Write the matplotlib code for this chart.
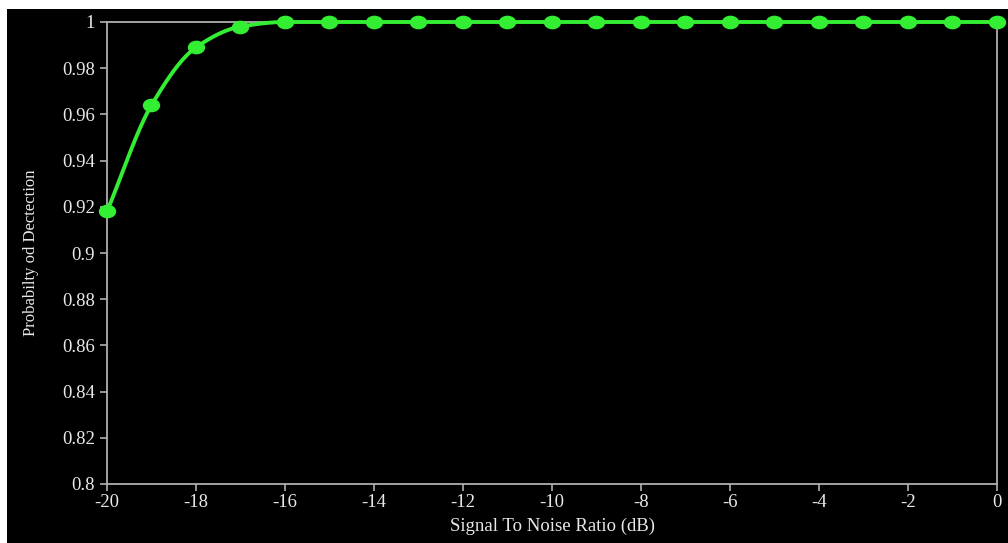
import numpy as np
import matplotlib.pyplot as plt
from matplotlib.patches import Rectangle
from matplotlib.path import Path

snr_db = [-20, -19, -18, -17, -16, -15, -14, -13, -12, -11, -10,
          -9, -8, -7, -6, -5, -4, -3, -2, -1, 0]
p_detect = [0.918, 0.964, 0.989, 0.998, 1.0, 1.0, 1.0, 1.0, 1.0, 1.0, 1.0,
            1.0, 1.0, 1.0, 1.0, 1.0, 1.0, 1.0, 1.0, 1.0, 1.0]
x_ticks = list(range(-20, 1, 2))
y_ticks = [0.8, 0.82, 0.84, 0.86, 0.88, 0.9, 0.92, 0.94, 0.96, 0.98, 1.0]
y_labels = ['0.8', '0.82', '0.84', '0.86', '0.88', '0.9', '0.92', '0.94',
            '0.96', '0.98', '1']

GREEN = '#33ee33'
GREY = '#b0b0b0'
TXT = '#e8e8e8'


def smooth_curve(x, y, n=20):
    # monotone cubic hermite, only used to draw the line between points
    x = np.asarray(x, float)
    y = np.asarray(y, float)
    h = np.diff(x)
    d = np.diff(y) / h
    m = np.zeros_like(y)
    m[0] = d[0]
    m[-1] = d[-1]
    for i in range(1, len(y) - 1):
        if d[i - 1] * d[i] <= 0:
            m[i] = 0
        else:
            m[i] = 2 / (1 / d[i - 1] + 1 / d[i])
    xs, ys = [], []
    for i in range(len(x) - 1):
        t = np.linspace(0, 1, n, endpoint=False)
        h00 = 2*t**3 - 3*t**2 + 1
        h10 = t**3 - 2*t**2 + t
        h01 = -2*t**3 + 3*t**2
        h11 = t**3 - t**2
        xs.extend(x[i] + t * h[i])
        ys.extend(h00*y[i] + h10*h[i]*m[i] + h01*y[i+1] + h11*h[i]*m[i+1])
    xs.append(x[-1])
    ys.append(y[-1])
    return np.array(xs), np.array(ys)


# slightly wide dot, like the stretched picture
circ = Path.unit_circle()
ellipse = Path(circ.vertices * [1.3, 1.0], circ.codes)

plt.rcParams['font.family'] = ['Liberation Serif', 'DejaVu Serif']

fig = plt.figure(figsize=(10.08, 5.43), dpi=100, facecolor='white')
bg = Rectangle((7/1008, 0), 1, 1 - 9/543, transform=fig.transFigure,
               facecolor='black', edgecolor='none', zorder=-10)
fig.patches.append(bg)
ax = fig.add_axes([107/1008, 1 - 484/543, 890/1008, 462/543])
ax.set_facecolor('black')

xs, ys = smooth_curve(snr_db, p_detect)
ax.plot(xs, ys, color=GREEN, lw=2.8, zorder=3, clip_on=False)
ax.plot(snr_db, p_detect, linestyle='none', marker=ellipse, color=GREEN,
        ms=11.5, zorder=4, clip_on=False)

ax.set_xlim(-20, 0)
ax.set_ylim(0.8, 1.0)
ax.set_xticks(x_ticks)
ax.set_xticklabels([str(v) for v in x_ticks])
ax.set_yticks(y_ticks)
ax.set_yticklabels(y_labels)

for s in ax.spines.values():
    s.set_color(GREY)
    s.set_linewidth(1.3)
ax.tick_params(colors=GREY, labelcolor=TXT, labelsize=13.5, length=5, width=1.2)
ax.tick_params(axis='x', pad=2)

ax.set_xlabel('Signal To Noise Ratio (dB)', color=TXT, fontsize=13.5, labelpad=5)
ax.set_ylabel('Probabilty od Dectection', color=TXT, fontsize=12, labelpad=17)

fig.savefig('out.png', dpi=100, facecolor=fig.get_facecolor())
